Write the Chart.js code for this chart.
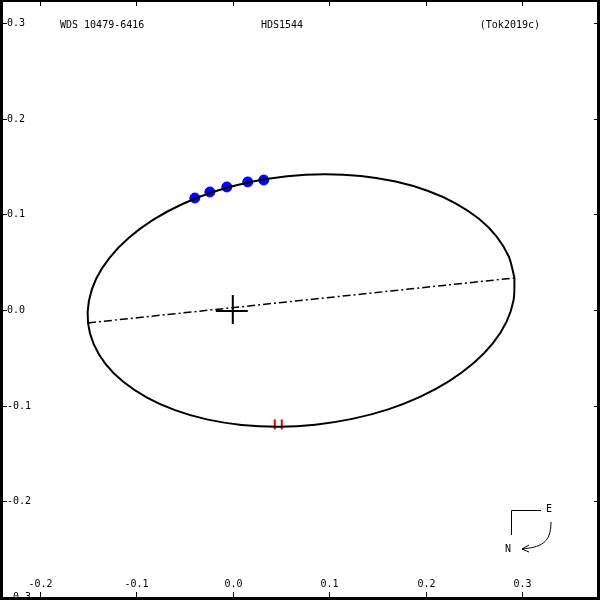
<!DOCTYPE html>
<html>
<head>
<meta charset="utf-8">
<script src="https://cdn.jsdelivr.net/npm/chart.js@4/dist/chart.umd.min.js"></script>
<style>
html,body{margin:0;padding:0;background:#fff;}
#wrap{width:600px;height:600px;position:relative;}
</style>
</head>
<body>
<div id="wrap"><canvas id="c" width="600" height="600"></canvas></div>
<script>
// ---- data ----
const titleLeft = 'WDS 10479-6416';
const titleMid = 'HDS1544';
const titleRight = '(Tok2019c)';

const xTicks = [-0.2, -0.1, 0.0, 0.1, 0.2, 0.3];
const xTickLabels = ['-0.2', '-0.1', '0.0', '0.1', '0.2', '0.3'];
const yTicks = [0.3, 0.2, 0.1, 0.0, -0.1, -0.2, -0.3];
const yTickLabels = ['0.3', '0.2', '0.1', '0.0', '-0.1', '-0.2', '-0.3'];

// apparent orbit (points read around the ellipse)
const orbitX = [0.2922, 0.2863, 0.2739, 0.2553, 0.2310, 0.2020, 0.1690, 0.1329, 0.0950, 0.0564,
  0.0182, -0.0184, -0.0522, -0.0824, -0.1078, -0.1279, -0.1419, -0.1493, -0.1502, -0.1443,
  -0.1319, -0.1133, -0.0890, -0.0600, -0.0270, 0.0091, 0.0470, 0.0856, 0.1238, 0.1604,
  0.1942, 0.2244, 0.2498, 0.2699, 0.2839, 0.2913, 0.2922];
const orbitY = [0.0335, 0.0557, 0.0765, 0.0953, 0.1115, 0.1246, 0.1342, 0.1401, 0.1420, 0.1399,
  0.1338, 0.1241, 0.1108, 0.0944, 0.0755, 0.0546, 0.0324, 0.0094, -0.0135, -0.0357,
  -0.0565, -0.0753, -0.0915, -0.1046, -0.1143, -0.1201, -0.1220, -0.1199, -0.1138, -0.1041,
  -0.0908, -0.0744, -0.0555, -0.0346, -0.0124, 0.0106, 0.0335];

// line of apsides
const apsX = [-0.1502, 0.2922];
const apsY = [-0.0135, 0.0335];

// observed positions
const obsX = [-0.0394, -0.0238, -0.0062, 0.0155, 0.0321];
const obsY = [0.1170, 0.1233, 0.1286, 0.1338, 0.1358];

// predicted positions (red marks)
const predX = [0.0435, 0.0508];
const predY = [-0.1196, -0.1196];

// primary star cross
const crossVX = [0.0, 0.0];
const crossVY = [0.0157, -0.0146];
const crossHX = [-0.0176, 0.0155];
const crossHY = [-0.0010, -0.0010];

// compass (data coordinates)
const compassCorner = [0.2886, -0.2090];
const compassE = [0.3197, -0.2090];
const compassN = [0.2886, -0.2352];

const zip = (xs, ys) => xs.map((x, i) => ({x: x, y: ys[i]}));
const FONT = '10px "DejaVu Sans Mono", monospace';

const decor = {
  id: 'decor',
  beforeDraw(chart) {
    const c = chart.ctx;
    c.save();
    c.fillStyle = '#fff';
    c.fillRect(0, 0, chart.width, chart.height);
    c.restore();
  },
  afterDraw(chart) {
    const c = chart.ctx;
    const sx = chart.scales.x, sy = chart.scales.y;
    const W = chart.width, H = chart.height;
    c.save();
    c.fillStyle = '#000';
    c.strokeStyle = '#000';
    c.font = FONT;
    // ticks & labels
    c.lineWidth = 1;
    xTicks.forEach((v, i) => {
      const px = Math.round(sx.getPixelForValue(v)) + 0.5;
      c.beginPath();
      c.moveTo(px, 0); c.lineTo(px, 6);
      c.moveTo(px, H); c.lineTo(px, H - 8);
      c.stroke();
      c.textAlign = 'center';
      c.textBaseline = 'middle';
      c.fillText(xTickLabels[i], px, 584);
    });
    yTicks.forEach((v, i) => {
      const py = Math.round(sy.getPixelForValue(v)) + 0.5;
      c.beginPath();
      c.moveTo(0, py); c.lineTo(7, py);
      c.moveTo(W, py); c.lineTo(W - 6, py);
      c.stroke();
      c.textAlign = 'left';
      c.textBaseline = 'middle';
      c.fillText(yTickLabels[i], 7, py);
    });
    // titles
    c.textBaseline = 'middle';
    c.textAlign = 'left';
    c.fillText(titleLeft, 60, 25);
    c.textAlign = 'center';
    c.fillText(titleMid, 282, 25);
    c.textAlign = 'right';
    c.fillText(titleRight, 540, 25);
    // compass
    const P = (p) => [sx.getPixelForValue(p[0]), sy.getPixelForValue(p[1])];
    const a = P(compassCorner), e = P(compassE), n = P(compassN);
    c.lineWidth = 1;
    c.beginPath();
    c.moveTo(Math.round(e[0]), Math.round(a[1]) + 0.5);
    c.lineTo(Math.round(a[0]) + 0.5, Math.round(a[1]) + 0.5);
    c.lineTo(Math.round(a[0]) + 0.5, Math.round(n[1]));
    c.stroke();
    c.textAlign = 'center';
    c.fillText('E', e[0] + 8, a[1] - 1);
    c.fillText('N', n[0] - 3, n[1] + 14);
    // curved arrow from below E to N
    const s0 = [e[0] + 10, a[1] + 12];
    const t0 = [n[0] + 11, n[1] + 14];
    c.beginPath();
    c.moveTo(s0[0], s0[1]);
    c.bezierCurveTo(s0[0], s0[1] + 22, t0[0] + 18, t0[1] - 2, t0[0], t0[1]);
    c.stroke();
    c.beginPath();
    c.moveTo(t0[0] + 7, t0[1] - 4);
    c.lineTo(t0[0], t0[1]);
    c.lineTo(t0[0] + 7, t0[1] + 3);
    c.stroke();
    // frame
    c.fillRect(0, 0, W, 2);
    c.fillRect(0, 0, 3, H);
    c.fillRect(W - 3, 0, 3, H);
    c.fillRect(0, H - 3, W, 3);
    c.restore();
  }
};

new Chart(document.getElementById('c'), {
  type: 'scatter',
  data: {
    datasets: [
      { data: zip(orbitX, orbitY), showLine: true, borderColor: '#000', borderWidth: 2,
        pointRadius: 0, tension: 0.3, fill: false, order: 0 },
      { data: zip(apsX, apsY), showLine: true, borderColor: '#000', borderWidth: 1.5,
        borderDash: [8, 3, 2, 3], pointRadius: 0, order: 1 },
      { data: zip(crossVX, crossVY), showLine: true, borderColor: '#000', borderWidth: 2,
        pointRadius: 0, order: 1 },
      { data: zip(crossHX, crossHY), showLine: true, borderColor: '#000', borderWidth: 2,
        pointRadius: 0, order: 1 },
      { data: zip(predX, predY), showLine: false, pointStyle: 'line', rotation: 90,
        pointRadius: 5, borderColor: '#e00000', borderWidth: 2, order: 1 },
      { data: zip(obsX, obsY), showLine: false, pointStyle: 'circle', pointRadius: 5,
        backgroundColor: '#0000ff', borderColor: '#0000ff', borderWidth: 1, order: 2 }
    ]
  },
  options: {
    responsive: false,
    animation: false,
    events: [],
    layout: { padding: 0, autoPadding: false },
    plugins: { legend: { display: false }, tooltip: { enabled: false } },
    scales: {
      x: { type: 'linear', min: -0.2415, max: 0.3809, display: false },
      y: { type: 'linear', min: -0.3031, max: 0.3240, display: false }
    }
  },
  plugins: [decor]
});
</script>
</body>
</html>
